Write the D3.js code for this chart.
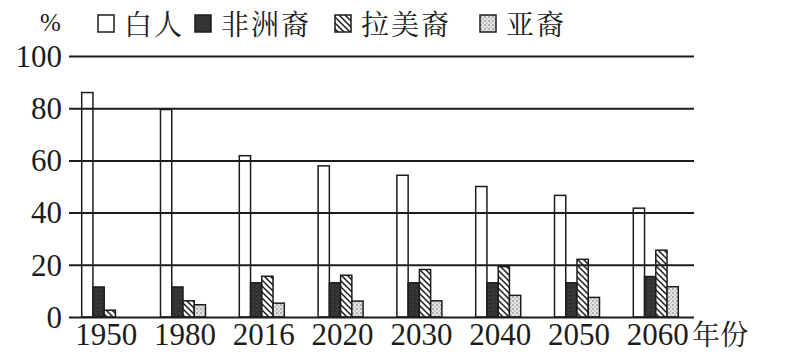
<!DOCTYPE html>
<html><head><meta charset="utf-8">
<script src="https://cdn.jsdelivr.net/npm/d3@7"></script>
<style>
body{margin:0;font-family:"Liberation Serif","Times New Roman",serif;}
svg text{font-family:"Liberation Serif","Tinos","Times New Roman",serif !important;}
svg text.cjk{font-family:"Noto Serif CJK SC","Noto Sans CJK SC",serif !important;}
</style>
</head><body>
<svg id="c" width="787" height="359"></svg>
<script>
const years = ["1950","1980","2016","2020","2030","2040","2050","2060"];
const seriesNames = ["白人","非洲裔","拉美裔","亚裔"];
const white    = [86, 79.5, 61.8, 57.9, 54.3, 50, 46.6, 41.7];
const black    = [11.5, 11.5, 13.1, 13.1, 13.1, 13.1, 13.1, 15.5];
const hispanic = [2.6, 6.2, 15.6, 16, 18.2, 19.3, 22.1, 25.6];
const asian    = [0, 4.7, 5.3, 6.1, 6.2, 8.3, 7.5, 11.6];
const yTicks = [0, 20, 40, 60, 80, 100];
const seriesValues = [white, black, hispanic, asian];

const svg = d3.select("#c");
const defs = svg.append("defs");
const ink = "#1c1c1c";

// patterns
const ph = defs.append("pattern").attr("id","hatch").attr("patternUnits","userSpaceOnUse")
  .attr("width",6).attr("height",6);
ph.append("rect").attr("width",6).attr("height",6).attr("fill","#fff");
ph.append("path").attr("d","M-1,-1 L7,7 M-1,5 L1,7 M5,-1 L7,1").attr("stroke",ink).attr("stroke-width",1.5);

const pd = defs.append("pattern").attr("id","dots").attr("patternUnits","userSpaceOnUse")
  .attr("width",4).attr("height",4);
pd.append("rect").attr("width",4).attr("height",4).attr("fill","#e4e4e4");
pd.append("circle").attr("cx",1).attr("cy",1).attr("r",0.7).attr("fill","#555");
pd.append("circle").attr("cx",3).attr("cy",3).attr("r",0.6).attr("fill","#777");

const pb = defs.append("pattern").attr("id","dark").attr("patternUnits","userSpaceOnUse")
  .attr("width",4).attr("height",4);
pb.append("rect").attr("width",4).attr("height",4).attr("fill","#2e2e2e");
pb.append("circle").attr("cx",1).attr("cy",2).attr("r",0.6).attr("fill","#6a6a6a");
pb.append("circle").attr("cx",3).attr("cy",0.5).attr("r",0.5).attr("fill","#555");

const fills = ["#fff","url(#dark)","url(#hatch)","url(#dots)"];

const x0 = 81.7, step = 78.8, groupW = 45;
const x = d3.scaleBand().domain(years)
  .range([x0, x0 + 7*step + groupW]).paddingInner(1 - groupW/step).paddingOuter(0);
const xs = d3.scaleBand().domain(d3.range(4)).range([0, x.bandwidth()]).padding(0);
const y = d3.scaleLinear().domain([0,100]).range([317,56]);

// bars
const g = svg.append("g");
years.forEach((yr, i) => {
  seriesValues.forEach((vals, s) => {
    const v = vals[i];
    if (v <= 0) return;
    g.append("rect")
      .attr("x", x(yr) + xs(s)).attr("y", y(v))
      .attr("width", xs.bandwidth()).attr("height", y(0) - y(v))
      .attr("fill", s === 0 ? "none" : fills[s])
      .attr("stroke", ink).attr("stroke-width", 1.5);
  });
});

// gridlines + y labels
const yAxis = d3.axisLeft(y).tickValues(yTicks).tickSize(-(694-69)).tickPadding(7).tickFormat(d3.format("d"));
const ya = svg.append("g").attr("transform","translate(69,0)").call(yAxis)
  .attr("font-size", 31);
ya.select(".domain").remove();
ya.selectAll(".tick line").attr("stroke", ink).attr("stroke-width", 2);
ya.selectAll(".tick text").attr("fill", ink).attr("dy","0.33em");

// x labels
const xAxis = d3.axisBottom(x).tickSize(0).tickPadding(0);
const xa = svg.append("g").attr("transform","translate(2,317)").call(xAxis)
  .attr("font-size", 31);
xa.select(".domain").remove();
xa.selectAll(".tick text").attr("fill", ink).attr("dy", "0").attr("y", 28);

svg.append("text").attr("class","cjk").attr("x", 692).attr("y", 345).attr("font-size", 28)
  .attr("fill", ink).text("年份");

svg.append("text").attr("x", 40).attr("y", 31).attr("font-size", 25)
  .attr("fill", ink).text("%");

// legend
const legX = [98, 195, 335, 480];
seriesNames.forEach((n, s) => {
  svg.append("rect").attr("x", legX[s]).attr("y", 15).attr("width", 16).attr("height", 17)
    .attr("fill", s === 1 ? "#333" : fills[s]).attr("stroke", ink).attr("stroke-width", 1.5);
  svg.append("text").attr("class","cjk").attr("x", legX[s] + 26).attr("y", 35)
    .attr("font-size", 28).attr("letter-spacing", 2)
    .attr("fill", ink).text(n);
});
</script>
</body></html>
